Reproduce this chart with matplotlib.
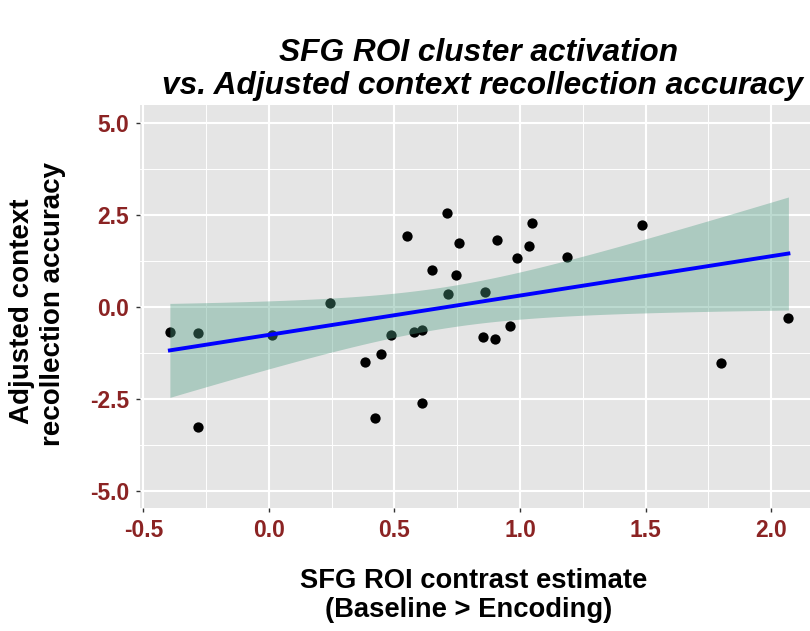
import matplotlib

matplotlib.use("Agg")
import matplotlib.pyplot as plt
import numpy as np
from matplotlib.ticker import MultipleLocator

# data
roi_contrast = [-0.394, -0.284, -0.281, 0.013, 0.244, 0.384, 0.421, 0.446, 0.486, 0.551,
                0.580, 0.611, 0.608, 0.649, 0.709, 0.714, 0.746, 0.757, 0.853, 0.859,
                0.900, 0.910, 0.959, 0.987, 1.037, 1.048, 1.189, 1.486, 1.800, 2.069]
recollection = [-0.66, -0.70, -3.26, -0.75, 0.11, -1.48, -3.00, -1.27, -0.75, 1.95,
                -0.66, -0.61, -2.59, 1.02, 2.56, 0.37, 0.87, 1.75, -0.80, 0.41,
                -0.87, 1.84, -0.50, 1.33, 1.68, 2.30, 1.38, 2.25, -1.51, -0.30]
x_ticks = [-0.5, 0.0, 0.5, 1.0, 1.5, 2.0]
y_ticks = [-5.0, -2.5, 0.0, 2.5, 5.0]

title_lines = ["SFG ROI cluster activation", "vs. Adjusted context recollection accuracy"]
xlabel_lines = ["SFG ROI contrast estimate", "(Baseline > Encoding)"]
ylabel_lines = ["Adjusted context", "recollection accuracy"]

plt.rcParams["font.family"] = ["Liberation Sans", "DejaVu Sans"]

x = np.array(roi_contrast)
y = np.array(recollection)

# linear fit with 95% confidence band (like geom_smooth(method="lm"))
n = len(x)
slope, intercept = np.polyfit(x, y, 1)
resid = y - (intercept + slope * x)
s = np.sqrt(np.sum(resid ** 2) / (n - 2))
sxx = np.sum((x - x.mean()) ** 2)
t_crit = 2.048  # t(0.975, df=28)
xs = np.linspace(x.min(), x.max(), 100)
ys = intercept + slope * xs
se = s * np.sqrt(1 / n + (xs - x.mean()) ** 2 / sxx)

fig = plt.figure(figsize=(8.1, 6.31), dpi=100)
ax = fig.add_axes([140 / 810, 1 - 508 / 631, 1 - 140 / 810, (508 - 105) / 631])
ax.set_facecolor("#E5E5E5")
for sp in ax.spines.values():
    sp.set_visible(False)

ax.scatter(x, y, s=55, color="black", zorder=2, linewidths=0)
ax.fill_between(xs, ys - t_crit * se, ys + t_crit * se, color="#4F9E84",
                alpha=0.38, linewidth=0, zorder=3)
ax.plot(xs, ys, color="blue", lw=2.8, zorder=4)

ax.set_xlim(-0.513, 2.155)
ax.set_ylim(-5.45, 5.5)
ax.set_xticks(x_ticks)
ax.set_yticks(y_ticks)
ax.xaxis.set_minor_locator(MultipleLocator(0.25))
ax.yaxis.set_minor_locator(MultipleLocator(1.25))
ax.set_axisbelow(True)
ax.grid(which="major", color="white", lw=1.5)
ax.grid(which="minor", color="white", lw=0.7)
ax.tick_params(which="minor", length=0)
ax.tick_params(which="major", length=3, width=1, color="#333333",
               labelcolor="#8B2323", labelsize=16.5, pad=5)
ax.set_xticklabels([f"{v:.1f}" for v in x_ticks], fontweight="bold")
ax.set_yticklabels([f"{v:.1f}" for v in y_ticks], fontweight="bold")

W, H = 810, 631
fig.text(479 / W, 1 - 61 / H, title_lines[0], ha="center", va="baseline",
         fontsize=22.8, fontweight="bold", fontstyle="italic")
fig.text(483 / W, 1 - 94 / H, title_lines[1], ha="center", va="baseline",
         fontsize=22.8, fontweight="bold", fontstyle="italic")

fig.text(474 / W, 1 - 588 / H, xlabel_lines[0], ha="center", va="baseline",
         fontsize=19.7, fontweight="bold")
fig.text(469 / W, 1 - 617 / H, xlabel_lines[1], ha="center", va="baseline",
         fontsize=19.7, fontweight="bold")

fig.text(22 / W, 1 - 311 / H, ylabel_lines[0], ha="center", va="center",
         rotation=90, fontsize=20, fontweight="bold")
fig.text(53 / W, 1 - 304 / H, ylabel_lines[1], ha="center", va="center",
         rotation=90, fontsize=20, fontweight="bold")

fig.savefig("out.png", dpi=100)
